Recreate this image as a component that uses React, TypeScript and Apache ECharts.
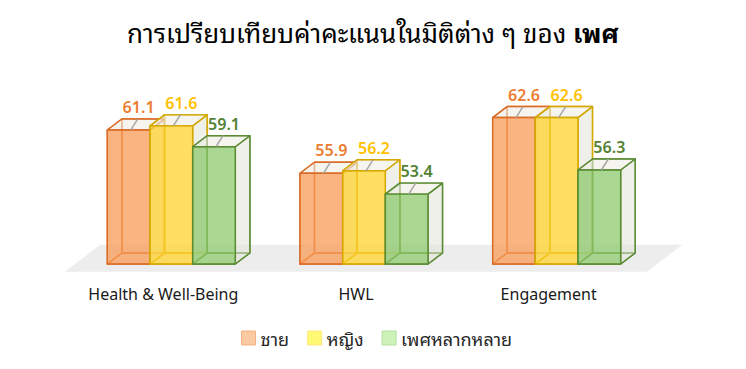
import React, { useEffect, useRef } from "react";
import * as echarts from "echarts";

const categories = ["Health & Well-Being", "HWL", "Engagement"];
const seriesNames = ["ชาย", "หญิง", "เพศหลากหลาย"];
const maleValues = [61.1, 55.9, 62.6];
const femaleValues = [61.6, 56.2, 62.6];
const diverseValues = [59.1, 53.4, 56.3];
const Y_MIN = 45;
const Y_MAX = 70;

const FONT = "'Noto Sans Thai Looped', 'Loma', 'Garuda', 'Tahoma', 'Noto Sans Thai', 'Noto Sans', 'DejaVu Sans', sans-serif";

const styles = [
  { fill: "#F89B58", stroke: "#DA6C27", label: "#ED7D31", legend: "#F9C9A2", legendBorder: "#F4B183" },
  { fill: "#FFD32D", stroke: "#D3A800", label: "#FFC000", legend: "#FFFA74", legendBorder: "#FFE680" },
  { fill: "#8ECA6C", stroke: "#5B8C34", label: "#548235", legend: "#CDF3B9", legendBorder: "#B3DEA0" },
];

const DX = 14.5;
const DY = -11;
const BAR_FRAC = 0.2215;

function makeBarRender(s: number) {
  return (params: any, api: any) => {
    const ci = api.value(0);
    const v = api.value(1);
    const top = api.coord([ci, v]);
    const base = api.coord([ci, Y_MIN]);
    const catW = api.size([1, 0])[0];
    const bw = catW * BAR_FRAC;
    const x0 = top[0] + (s - 1.5) * bw;
    const x1 = x0 + bw;
    const yT = top[1];
    const yB = base[1];
    const st = styles[s];
    const lineStyle = { stroke: st.stroke, lineWidth: 1.4, lineJoin: "round" };
    const poly = (pts: number[][], fill: string) => ({
      type: "polygon",
      shape: { points: pts },
      style: { fill, ...lineStyle },
    });
    const cx = (x0 + x1) / 2;
    return {
      type: "group",
      children: [
        poly([[x0 + DX, yT + DY], [x1 + DX, yT + DY], [x1 + DX, yB + DY], [x0 + DX, yB + DY]], "rgba(255,255,255,0)"),
        poly([[x0, yB], [x1, yB], [x1 + DX, yB + DY], [x0 + DX, yB + DY]], "rgba(255,255,255,0)"),
        poly([[x0, yT], [x0 + DX, yT + DY], [x0 + DX, yB + DY], [x0, yB]], "rgba(255,255,255,0)"),
        poly([[x1, yT], [x1 + DX, yT + DY], [x1 + DX, yB + DY], [x1, yB]], "rgba(225,228,215,0.55)"),
        poly([[x0, yT], [x1, yT], [x1 + DX, yT + DY], [x0 + DX, yT + DY]], "rgba(238,236,228,0.6)"),
        {
          type: "rect",
          shape: { x: x0, y: yT, width: bw, height: yB - yT },
          style: { fill: st.fill, ...lineStyle, fillOpacity: 0.75 },
        },
        {
          type: "line",
          shape: { x1: cx + 2, y1: yT, x2: cx + 9, y2: yT - 11 },
          style: { stroke: "#A6A6A6", lineWidth: 1.5 },
        },
        {
          type: "text",
          x: cx + 10,
          y: yT - 24,
          style: {
            text: v.toFixed(1),
            fill: st.label,
            font: `600 16px ${FONT}`,
            align: "center",
            verticalAlign: "middle",
          },
        },
      ],
    };
  };
}

const floorRender = (params: any, api: any) => {
  const cs = params.coordSys;
  const yB = cs.y + cs.height;
  const l = cs.x;
  const r = cs.x + cs.width + 4;
  const fF = -0.7;
  const fB = 1.75;
  return {
    type: "polygon",
    shape: {
      points: [
        [l + fF * DX, yB + fF * DY],
        [r + fF * DX, yB + fF * DY],
        [r + fB * DX, yB + fB * DY],
        [l + fB * DX, yB + fB * DY],
      ],
    },
    style: { fill: "#EDEDED" },
  };
};

export default function App() {
  const ref = useRef<HTMLDivElement>(null);
  useEffect(() => {
    if (!ref.current) return;
    const chart = echarts.init(ref.current, null, { renderer: "svg" });
    const allValues = [maleValues, femaleValues, diverseValues];
    const barSeries = allValues.map((vals, s) => ({
      type: "custom",
      name: seriesNames[s],
      renderItem: makeBarRender(s),
      data: vals.map((v, i) => [i, v]),
      itemStyle: { color: styles[s].legend },
      z: 2 + s,
    }));
    chart.setOption({
      animation: false,
      backgroundColor: "#ffffff",
      title: {
        text: "{a|การเปรียบเทียบค่าคะแนนในมิติต่าง ๆ ของ }{b|เพศ}",
        left: "center",
        top: 13,
        textStyle: {
          rich: {
            a: { fontFamily: FONT, fontSize: 26, color: "#000000", fontWeight: "normal" },
            b: { fontFamily: FONT, fontSize: 26, color: "#000000", fontWeight: "bold" },
          },
        },
      },
      legend: {
        top: 324,
        left: 236,
        icon: "rect",
        itemWidth: 14,
        itemHeight: 14,
        itemGap: 18,
        textStyle: { fontFamily: FONT, fontSize: 18, color: "#262626" },
        data: seriesNames.map((n, s) => ({
          name: n,
          itemStyle: { color: styles[s].legend, borderColor: styles[s].legendBorder, borderWidth: 1 },
        })),
      },
      grid: { left: 75, right: 93, top: 56, bottom: 105 },
      xAxis: {
        type: "category",
        data: categories,
        axisLine: { show: false },
        axisTick: { show: false },
        axisLabel: {
          interval: 0,
          margin: 21,
          fontFamily: FONT,
          fontSize: 16,
          color: "#1a1a1a",
          padding: [0, 16, 0, 0],
        },
      },
      yAxis: {
        type: "value",
        min: Y_MIN,
        max: Y_MAX,
        show: false,
        splitLine: { show: false },
      },
      series: [
        {
          type: "custom",
          name: "floor",
          renderItem: floorRender,
          data: [[0, Y_MIN]],
          silent: true,
          z: 1,
        },
        ...barSeries,
      ],
    });
    return () => chart.dispose();
  }, []);
  return <div ref={ref} style={{ position: "fixed", left: 0, top: 0, width: 746, height: 369 }} />;
}
